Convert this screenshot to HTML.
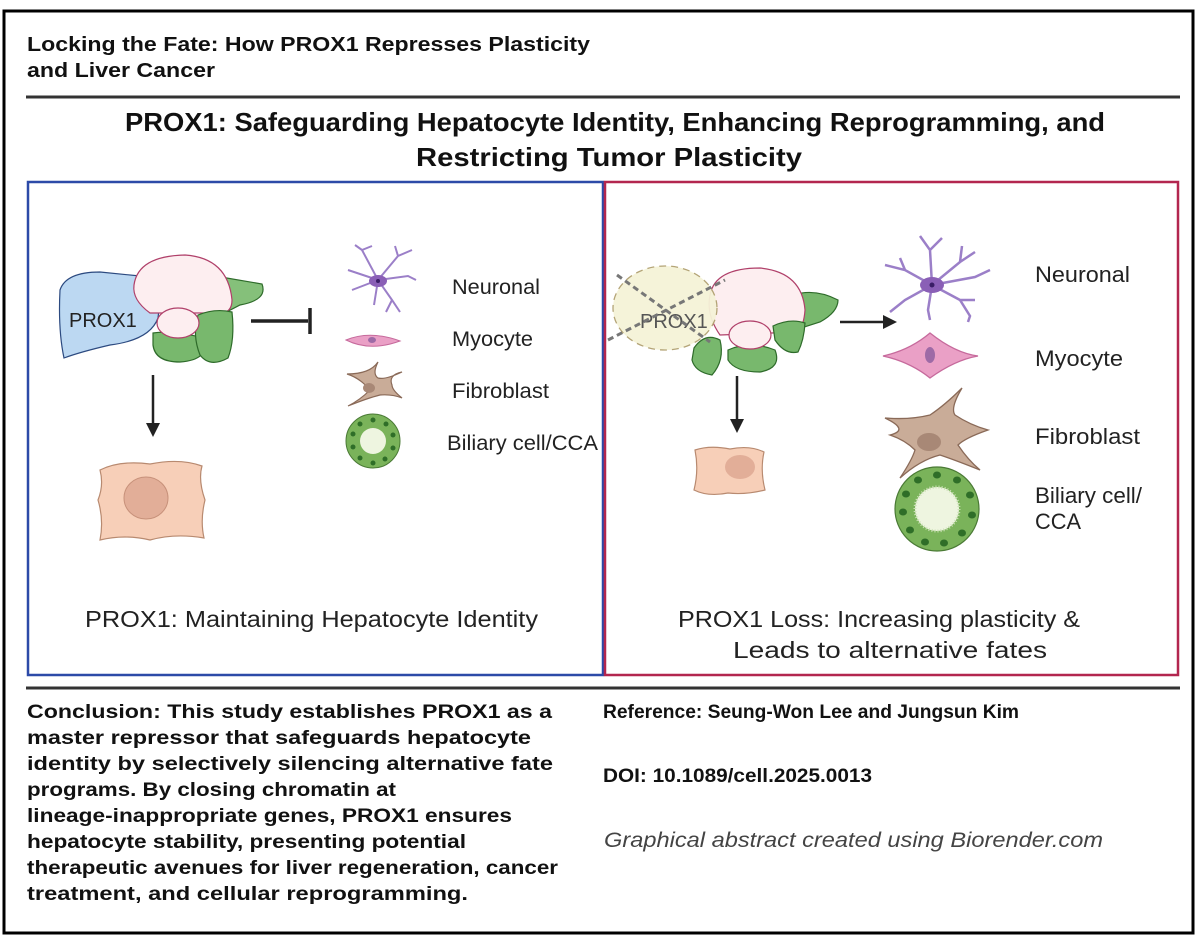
<!DOCTYPE html>
<html><head><style>
html,body{margin:0;padding:0;background:#fff;}
svg{display:block;}
text{font-family:"Liberation Sans",sans-serif;}
</style></head><body>
<svg width="1200" height="939" viewBox="0 0 1200 939" xmlns="http://www.w3.org/2000/svg">
<rect x="4" y="11" width="1189" height="922" fill="#fff" stroke="#000" stroke-width="3"/>
<text x="27" y="51" font-size="20" font-weight="bold" fill="#111" textLength="563" lengthAdjust="spacingAndGlyphs">Locking the Fate: How PROX1 Represses Plasticity</text>
<text x="27" y="77" font-size="20" font-weight="bold" fill="#111" textLength="188" lengthAdjust="spacingAndGlyphs">and Liver Cancer</text>
<line x1="26" y1="97" x2="1180" y2="97" stroke="#333" stroke-width="3"/>
<text x="125" y="131" font-size="26" font-weight="bold" fill="#111" textLength="980" lengthAdjust="spacingAndGlyphs">PROX1: Safeguarding Hepatocyte Identity, Enhancing Reprogramming, and</text>
<text x="416" y="166" font-size="26" font-weight="bold" fill="#111" textLength="386" lengthAdjust="spacingAndGlyphs">Restricting Tumor Plasticity</text>
<rect x="28" y="182" width="575" height="493" fill="none" stroke="#2c4aa8" stroke-width="2.5"/>
<rect x="605" y="182" width="573" height="493" fill="none" stroke="#b3264f" stroke-width="2.5"/>

<!-- LEFT liver -->
<path d="M262,284 Q268,300 240,305 L215,318 L215,276 Z" fill="#85c07a" stroke="#2e6b2a" stroke-width="1.2"/>
<path d="M60,290 Q66,272 100,272 L140,276 Q162,290 158,318 Q150,340 110,345 Q80,352 64,358 Q58,330 60,290 Z" fill="#bcd8f2" stroke="#2c4a80" stroke-width="1.2"/>
<path d="M134,285 Q138,256 185,255 Q228,258 232,300 Q232,313 220,313 L150,313 Q132,300 134,285 Z" fill="#fdeef0" stroke="#b0406a" stroke-width="1.2"/>
<path d="M153,333 Q170,330 205,338 Q210,360 180,362 Q155,362 153,345 Z" fill="#78b86d" stroke="#2e6b2a" stroke-width="1.2"/>
<path d="M198,315 Q215,308 232,312 Q235,340 228,358 Q210,368 200,355 Q192,335 198,315 Z" fill="#78b86d" stroke="#2e6b2a" stroke-width="1.2"/>
<ellipse cx="178" cy="323" rx="21" ry="15" fill="#fdeef0" stroke="#b0406a" stroke-width="1.2"/>
<text x="69" y="327" font-size="20" fill="#222">PROX1</text>
<line x1="251" y1="321" x2="308" y2="321" stroke="#222" stroke-width="3.5"/>
<line x1="310" y1="308" x2="310" y2="334" stroke="#222" stroke-width="3.5"/>
<line x1="153" y1="375" x2="153" y2="424" stroke="#222" stroke-width="2.5"/>
<polygon points="146,423 160,423 153,437" fill="#222"/>
<path d="M100,470 Q120,460 150,464 Q180,458 202,466 Q198,480 205,500 Q200,520 204,538 Q175,533 150,540 Q125,534 100,540 Q104,520 98,500 Q104,485 100,470 Z" fill="#f7cfb8" stroke="#b88a70" stroke-width="1.2"/>
<ellipse cx="146" cy="498" rx="22" ry="21" fill="#e2ae98" stroke="#c7917a" stroke-width="1"/>

<!-- left cells -->
<g stroke="#9b7fc8" stroke-width="2" fill="none">
<path d="M378,280 L352,290 M378,280 L348,270 M378,280 L362,250 M362,250 L355,245 M362,250 L372,246 M378,280 L398,256 M398,256 L412,250 M398,256 L395,246 M378,280 L408,276 L416,280 M378,280 L392,300 L400,312 M392,300 L386,312 M378,280 L374,305"/>
</g>
<ellipse cx="378" cy="281" rx="9" ry="6" fill="#8a5fb6"/>
<circle cx="378" cy="281" r="2" fill="#3a1e66"/>
<path d="M346,340 Q370,330 400,341 Q370,352 346,340 Z" fill="#eaa0c6" stroke="#c66a9c" stroke-width="1"/>
<ellipse cx="372" cy="340" rx="4" ry="3" fill="#9e6aa6"/>
<path d="M347,374 Q360,378 370,390 Q360,400 348,406 Q368,398 380,395 Q392,394 402,398 Q392,390 392,385 Q388,375 402,372 Q385,380 378,378 Q372,374 378,362 Q370,374 347,374 Z" fill="#c9ac98" stroke="#8a6a58" stroke-width="1.2"/>
<ellipse cx="369" cy="388" rx="6" ry="5" fill="#a88876"/>
<circle cx="373" cy="441" r="27" fill="#7ab35a" stroke="#4a7a35" stroke-width="1"/>
<circle cx="373" cy="441" r="13" fill="#eef5e0"/>
<g fill="#2f6e28"><circle cx="373" cy="420" r="2.5"/><circle cx="386" cy="424" r="2.5"/><circle cx="393" cy="435" r="2.5"/><circle cx="393" cy="448" r="2.5"/><circle cx="385" cy="459" r="2.5"/><circle cx="373" cy="463" r="2.5"/><circle cx="360" cy="458" r="2.5"/><circle cx="353" cy="447" r="2.5"/><circle cx="353" cy="434" r="2.5"/><circle cx="360" cy="424" r="2.5"/></g>
<g font-size="21" fill="#222">
<text x="452" y="294" textLength="88" lengthAdjust="spacingAndGlyphs">Neuronal</text>
<text x="452" y="346" textLength="81" lengthAdjust="spacingAndGlyphs">Myocyte</text>
<text x="452" y="398" textLength="97" lengthAdjust="spacingAndGlyphs">Fibroblast</text>
<text x="447" y="450" textLength="151" lengthAdjust="spacingAndGlyphs">Biliary cell/CCA</text>
</g>
<text x="85" y="627" font-size="23" fill="#222" textLength="453" lengthAdjust="spacingAndGlyphs">PROX1: Maintaining Hepatocyte Identity</text>

<!-- RIGHT liver -->
<path d="M838,300 Q838,312 820,322 L795,330 L793,295 Q815,288 838,300 Z" fill="#78b86d" stroke="#2e6b2a" stroke-width="1.2"/>
<path d="M710,295 Q715,268 760,268 Q802,272 805,310 Q804,325 798,332 L720,335 Q706,315 710,295 Z" fill="#fdeef0" stroke="#b0406a" stroke-width="1.2"/>
<path d="M773,326 Q790,318 805,323 Q804,340 798,352 Q785,355 775,340 Z" fill="#78b86d" stroke="#2e6b2a" stroke-width="1.2"/>
<path d="M728,350 Q750,340 775,350 Q782,368 760,372 Q735,372 728,360 Z" fill="#78b86d" stroke="#2e6b2a" stroke-width="1.2"/>
<path d="M694,348 Q705,332 720,340 Q725,360 712,375 Q695,372 692,360 Z" fill="#78b86d" stroke="#2e6b2a" stroke-width="1.2"/>
<ellipse cx="750" cy="335" rx="21" ry="14" fill="#fdeef0" stroke="#b0406a" stroke-width="1.2"/>
<ellipse cx="665" cy="308" rx="52" ry="42" fill="#f5f3d8" stroke="#b0a070" stroke-width="1.3" stroke-dasharray="7,5" opacity="0.95"/>
<text x="640" y="328" font-size="20" fill="#555">PROX1</text>
<line x1="617" y1="275" x2="710" y2="342" stroke="#777" stroke-width="3" stroke-dasharray="6,4"/>
<line x1="608" y1="340" x2="725" y2="280" stroke="#777" stroke-width="3" stroke-dasharray="6,4"/>
<line x1="840" y1="322" x2="884" y2="322" stroke="#222" stroke-width="2.5"/>
<polygon points="883,315 897,322 883,329" fill="#222"/>
<line x1="737" y1="376" x2="737" y2="420" stroke="#222" stroke-width="2.5"/>
<polygon points="730,419 744,419 737,433" fill="#222"/>
<path d="M695,450 Q710,445 730,449 Q750,445 764,452 Q760,470 765,490 Q745,495 728,493 Q708,497 694,490 Q699,470 695,450 Z" fill="#f7cfb8" stroke="#b88a70" stroke-width="1.2"/>
<ellipse cx="740" cy="467" rx="15" ry="12" fill="#e2ae98"/>

<!-- right cells -->
<g stroke="#9b7fc8" stroke-width="2.5" fill="none">
<path d="M932,285 L905,270 L885,265 M905,270 L900,258 M932,285 L905,300 L890,312 M932,285 L930,250 L920,236 M930,250 L942,238 M932,285 L960,262 L975,252 M960,262 L962,246 M932,285 L975,277 L990,270 M932,285 L960,300 L970,316 L968,322 M960,300 L975,300 M932,285 L928,310 L930,320"/>
</g>
<ellipse cx="932" cy="285" rx="12" ry="8" fill="#8a5fb6"/>
<circle cx="932" cy="285" r="2.5" fill="#3a1e66"/>
<path d="M883,356 Q910,350 930,333 Q955,353 978,356 Q955,360 930,378 Q910,362 883,356 Z" fill="#eaa0c6" stroke="#c66a9c" stroke-width="1.3"/>
<ellipse cx="930" cy="355" rx="5" ry="8" fill="#9e6aa6"/>
<path d="M885,418 Q910,420 930,415 Q945,405 962,388 Q950,408 955,415 Q970,425 988,430 Q965,438 958,445 Q968,460 980,470 Q955,460 940,455 Q920,460 900,478 Q912,460 915,450 Q905,440 890,435 Q910,430 885,418 Z" fill="#c9ac98" stroke="#8a6a58" stroke-width="1.3"/>
<ellipse cx="929" cy="442" rx="12" ry="9" fill="#a88876"/>
<circle cx="937" cy="509" r="42" fill="#7ab35a" stroke="#4a7a35" stroke-width="1.2"/>
<circle cx="937" cy="509" r="22" fill="#eef5e0" stroke="#cde0b8" stroke-width="3" stroke-dasharray="1,2"/>
<g fill="#2f6e28"><ellipse cx="937" cy="475" rx="4" ry="3.5"/><ellipse cx="957" cy="480" rx="4" ry="3.5"/><ellipse cx="970" cy="495" rx="4" ry="3.5"/><ellipse cx="972" cy="515" rx="4" ry="3.5"/><ellipse cx="962" cy="533" rx="4" ry="3.5"/><ellipse cx="944" cy="543" rx="4" ry="3.5"/><ellipse cx="925" cy="542" rx="4" ry="3.5"/><ellipse cx="910" cy="530" rx="4" ry="3.5"/><ellipse cx="903" cy="512" rx="4" ry="3.5"/><ellipse cx="906" cy="494" rx="4" ry="3.5"/><ellipse cx="918" cy="480" rx="4" ry="3.5"/></g>
<g font-size="22" fill="#222">
<text x="1035" y="282" textLength="95" lengthAdjust="spacingAndGlyphs">Neuronal</text>
<text x="1035" y="366" textLength="88" lengthAdjust="spacingAndGlyphs">Myocyte</text>
<text x="1035" y="444" textLength="105" lengthAdjust="spacingAndGlyphs">Fibroblast</text>
<text x="1035" y="503" textLength="107" lengthAdjust="spacingAndGlyphs">Biliary cell/</text>
<text x="1035" y="529" textLength="46" lengthAdjust="spacingAndGlyphs">CCA</text>
</g>
<text x="678" y="627" font-size="23" fill="#222" textLength="402" lengthAdjust="spacingAndGlyphs">PROX1 Loss: Increasing plasticity &amp;</text>
<text x="733" y="658" font-size="23" fill="#222" textLength="314" lengthAdjust="spacingAndGlyphs">Leads to alternative fates</text>

<line x1="26" y1="688" x2="1180" y2="688" stroke="#333" stroke-width="3"/>
<g font-size="19.5" font-weight="bold" fill="#111">
<text x="27" y="718" textLength="525" lengthAdjust="spacingAndGlyphs">Conclusion: This study establishes PROX1 as a</text>
<text x="27" y="744" textLength="504" lengthAdjust="spacingAndGlyphs">master repressor that safeguards hepatocyte</text>
<text x="27" y="770" textLength="526" lengthAdjust="spacingAndGlyphs">identity by selectively silencing alternative fate</text>
<text x="27" y="796" textLength="369" lengthAdjust="spacingAndGlyphs">programs. By closing chromatin at</text>
<text x="27" y="822" textLength="485" lengthAdjust="spacingAndGlyphs">lineage-inappropriate genes, PROX1 ensures</text>
<text x="27" y="848" textLength="439" lengthAdjust="spacingAndGlyphs">hepatocyte stability, presenting potential</text>
<text x="27" y="874" textLength="531" lengthAdjust="spacingAndGlyphs">therapeutic avenues for liver regeneration, cancer</text>
<text x="27" y="900" textLength="441" lengthAdjust="spacingAndGlyphs">treatment, and cellular reprogramming.</text>
<text x="603" y="718" textLength="416" lengthAdjust="spacingAndGlyphs">Reference: Seung-Won Lee and Jungsun Kim</text>
<text x="603" y="782" textLength="269" lengthAdjust="spacingAndGlyphs">DOI: 10.1089/cell.2025.0013</text>
</g>
<text x="604" y="847" font-size="21" font-style="italic" fill="#444" textLength="499" lengthAdjust="spacingAndGlyphs">Graphical abstract created using Biorender.com</text>
</svg>
</body></html>
